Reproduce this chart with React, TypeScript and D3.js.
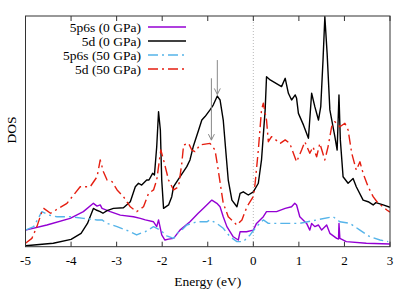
import React from 'react';
import * as d3 from 'd3';

// energy (eV) / DOS (arb. units)
const black0 = [
  [-5.0, 0.04], [-4.39, 0.15], [-4.0, 0.32], [-3.78, 0.58], [-3.64, 1.01], [-3.51, 1.66], [-3.45, 1.59],
  [-3.36, 1.52], [-3.3, 1.45], [-3.21, 1.56], [-3.07, 1.66], [-2.85, 1.69], [-2.7, 1.95], [-2.59, 2.6],
  [-2.52, 2.75], [-2.45, 2.67], [-2.34, 2.89], [-2.29, 2.89], [-2.21, 3.18], [-2.17, 3.11], [-2.12, 4.33],
  [-2.08, 5.85], [-2.04, 5.06], [-2.01, 2.89], [-1.97, 1.66], [-1.86, 1.81], [-1.79, 2.17], [-1.75, 2.6],
  [-1.61, 3.03], [-1.46, 3.47], [-1.39, 3.76], [-1.32, 4.33], [-1.2, 5.06], [-1.13, 5.49], [-1.06, 5.64],
  [-0.95, 5.93], [-0.88, 6.14], [-0.79, 6.53], [-0.73, 6.36], [-0.66, 5.49], [-0.6, 4.05], [-0.55, 2.89],
  [-0.47, 2.02], [-0.36, 1.73], [-0.29, 2.31], [-0.22, 2.38], [-0.11, 2.24], [0.0, 2.38], [0.11, 2.75],
  [0.18, 3.76], [0.26, 5.93], [0.29, 7.37], [0.37, 7.23], [0.62, 6.94], [0.7, 7.3], [0.77, 6.65],
  [0.84, 6.36], [0.92, 6.58], [0.95, 6.43], [0.99, 5.78], [1.1, 5.28], [1.21, 4.7], [1.28, 6.65],
  [1.35, 6.07], [1.43, 5.49], [1.48, 6.07], [1.53, 8.09], [1.57, 9.97], [1.62, 8.38], [1.68, 5.93],
  [1.79, 4.77], [1.84, 4.19], [1.88, 6.58], [1.91, 4.63], [1.97, 3.03], [2.08, 2.75], [2.19, 2.96],
  [2.26, 2.6], [2.41, 2.02], [2.52, 1.95], [2.63, 1.81], [2.69, 1.91], [2.85, 1.81], [3.0, 1.71],
];

const red50 = [
  [-5.0, 0.15], [-4.86, 0.36], [-4.75, 0.87], [-4.64, 1.52], [-4.6, 1.66], [-4.45, 1.45], [-4.09, 1.88],
  [-3.8, 2.6], [-3.58, 2.6], [-3.43, 3.03], [-3.36, 3.76], [-3.29, 3.25], [-3.21, 2.89], [-3.1, 2.82],
  [-2.99, 2.46], [-2.85, 2.17], [-2.7, 1.73], [-2.56, 1.52], [-2.41, 1.73], [-2.3, 2.31], [-2.19, 2.46],
  [-2.12, 2.89], [-2.08, 3.47], [-2.03, 4.19], [-1.97, 3.76], [-1.86, 2.89], [-1.75, 2.46], [-1.64, 2.6],
  [-1.57, 3.61], [-1.53, 4.41], [-1.42, 4.48], [-1.35, 4.19], [-1.28, 4.12], [-1.17, 4.41], [-0.95, 4.48],
  [-0.84, 4.19], [-0.77, 3.32], [-0.66, 1.88], [-0.55, 1.3], [-0.36, 0.94], [-0.25, 1.16], [-0.14, 1.73],
  [0.0, 2.17], [0.04, 2.75], [0.11, 4.19], [0.18, 5.93], [0.22, 6.22], [0.29, 5.49], [0.33, 4.55],
  [0.4, 4.77], [0.59, 4.48], [0.7, 4.63], [0.8, 4.48], [0.88, 4.05], [0.95, 3.68], [1.06, 4.19],
  [1.13, 4.55], [1.24, 4.05], [1.31, 4.33], [1.39, 3.9], [1.46, 4.48], [1.57, 3.76], [1.64, 4.33],
  [1.72, 5.2], [1.79, 5.42], [1.9, 5.2], [2.01, 5.35], [2.08, 5.06], [2.16, 4.05], [2.26, 3.32],
  [2.34, 3.68], [2.41, 3.18], [2.52, 2.6], [2.63, 2.17], [2.74, 1.88], [2.85, 1.73], [2.93, 1.59], [3.0, 1.5],
];

const purple0 = [
  [-5.0, 0.72], [-4.53, 0.94], [-4.02, 1.23], [-3.73, 1.52], [-3.51, 1.88], [-3.43, 1.76], [-3.36, 1.81],
  [-3.32, 1.66], [-3.14, 1.52], [-2.92, 1.37], [-2.63, 1.3], [-2.48, 1.23], [-2.37, 1.16], [-2.19, 1.08],
  [-2.12, 0.87], [-2.08, 1.16], [-2.01, 0.51], [-1.94, 0.29], [-1.86, 0.33], [-1.75, 0.36], [-1.61, 0.72],
  [-1.39, 1.08], [-1.21, 1.45], [-1.1, 1.66], [-0.91, 2.02], [-0.8, 1.88], [-0.73, 1.73], [-0.66, 1.3],
  [-0.58, 0.87], [-0.44, 0.43], [-0.33, 0.29], [-0.29, 0.65], [-0.15, 0.65], [0.0, 0.72], [0.07, 1.01],
  [0.22, 1.3], [0.29, 1.52], [0.51, 1.52], [0.7, 1.66], [0.84, 1.73], [0.91, 1.88], [0.95, 1.81],
  [1.02, 1.3], [1.17, 1.01], [1.24, 0.72], [1.28, 1.01], [1.35, 0.87], [1.43, 0.94], [1.5, 0.72],
  [1.61, 0.94], [1.68, 0.58], [1.83, 0.36], [1.87, 0.33], [1.88, 1.01], [1.9, 0.36], [2.04, 0.22],
  [2.48, 0.15], [3.0, 0.12],
];

const cyan50 = [
  [-5.0, 0.72], [-4.82, 0.87], [-4.64, 1.52], [-4.49, 1.37], [-4.31, 1.3], [-4.02, 1.3], [-3.73, 1.23],
  [-3.43, 1.16], [-3.32, 1.16], [-3.21, 1.01], [-2.99, 0.87], [-2.7, 0.65], [-2.56, 0.51], [-2.48, 0.58],
  [-2.37, 0.65], [-2.19, 0.87], [-2.04, 0.72], [-1.9, 0.47], [-1.75, 0.36], [-1.68, 0.58], [-1.57, 0.72],
  [-1.46, 0.94], [-1.24, 1.08], [-1.02, 1.08], [-0.95, 1.16], [-0.8, 1.01], [-0.66, 0.8], [-0.51, 0.43],
  [-0.36, 0.22], [-0.22, 0.22], [-0.07, 0.51], [0.07, 0.87], [0.22, 1.16], [0.33, 1.01], [0.44, 1.01],
  [0.66, 1.01], [1.02, 1.01], [1.39, 1.16], [1.75, 1.3], [1.9, 1.08], [2.12, 1.01], [2.34, 0.72],
  [2.56, 0.43], [2.78, 0.29], [2.96, 0.22],
];

const xTicks = [-5, -4, -3, -2, -1, 0, 1, 2, 3];

// arrows: energy, from DOS, to DOS
const arrows = [
  [-0.79, 8.09, 6.6],
  [-0.92, 7.3, 4.62],
];

const series = [
  { name: '5p6s (0 GPa)', data: purple0, color: '#9400d3', dash: null },
  { name: '5d (0 GPa)', data: black0, color: '#000000', dash: null },
  { name: '5p6s (50 GPa)', data: cyan50, color: '#56b4e9', dash: '10,4,2,4' },
  { name: '5d (50 GPa)', data: red50, color: '#e51e10', dash: '10,4,2,4' },
];

const FONT = 'Liberation Serif';

const App = () => {
  const width = 415;
  const height = 291;
  const margin = { top: 16, right: 25, bottom: 44.3, left: 25.5 };

  const x = d3.scaleLinear().domain([-5, 3]).range([margin.left, width - margin.right]);
  const y = d3.scaleLinear().domain([0, 10]).range([height - margin.bottom, margin.top]);

  const line = d3
    .line<number[]>()
    .x((d) => x(d[0]))
    .y((d) => y(d[1]));

  const [x0, x1] = x.range();
  const [yb, yt] = y.range();

  return (
    <svg
      width={width}
      height={height}
      fontFamily={FONT}
      style={{ position: 'fixed', left: 0, top: 0, background: '#fff' }}
    >
      <defs>
        <clipPath id="plot">
          <rect x={x0} y={yt} width={x1 - x0} height={yb - yt} />
        </clipPath>
      </defs>

      {/* zero line */}
      <line x1={x(0)} x2={x(0)} y1={yt} y2={yb} stroke="#999" strokeWidth={0.7} strokeDasharray="1,2" />

      {/* ticks, bottom and mirrored on top */}
      {xTicks.map((t) => (
        <g key={t}>
          <line x1={x(t)} x2={x(t)} y1={yb} y2={yb - 5} stroke="#333" />
          <line x1={x(t)} x2={x(t)} y1={yt} y2={yt + 5} stroke="#333" />
          <text x={x(t)} y={265} textAnchor="middle" fontSize={13} fontFamily={FONT}>
            {t}
          </text>
        </g>
      ))}

      <g clipPath="url(#plot)" fill="none" strokeLinejoin="round">
        {series.map((s) => (
          <path
            key={s.name}
            d={line(s.data) || ''}
            stroke={s.color}
            strokeWidth={1.4}
            strokeDasharray={s.dash || undefined}
          />
        ))}
      </g>

      {/* arrows */}
      {arrows.map(([e, from, to], i) => (
        <g key={i} stroke="#888" strokeWidth={1} fill="none">
          <line x1={x(e)} x2={x(e)} y1={y(from)} y2={y(to)} />
          <path d={`M${x(e) - 3},${y(to) - 6}L${x(e)},${y(to)}L${x(e) + 3},${y(to) - 6}`} />
        </g>
      ))}

      {/* legend */}
      {series.map((s, i) => (
        <g key={s.name}>
          <text x={141} y={31.5 + i * 14} textAnchor="end" fontSize={13.5} fontFamily={FONT}>
            {s.name}
          </text>
          <line
            x1={148}
            x2={186}
            y1={27 + i * 14}
            y2={27 + i * 14}
            stroke={s.color}
            strokeWidth={1.4}
            strokeDasharray={s.dash || undefined}
          />
        </g>
      ))}

      <rect x={x0} y={yt} width={x1 - x0} height={yb - yt} fill="none" stroke="#333" strokeWidth={1} />

      <text x={(x0 + x1) / 2} y={285.5} textAnchor="middle" fontSize={13.5} fontFamily={FONT}>
        Energy (eV)
      </text>
      <text transform={`translate(16,130) rotate(-90)`} textAnchor="middle" fontSize={13.5} fontFamily={FONT}>
        DOS
      </text>
    </svg>
  );
};

export default App;
